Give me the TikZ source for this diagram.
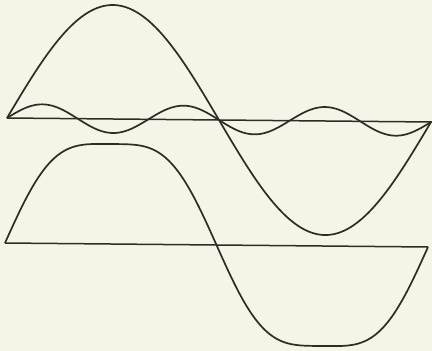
\documentclass[tikz,border=0pt]{standalone}
\definecolor{paper}{RGB}{246,244,230}
\definecolor{ink}{RGB}{45,45,40}
\tikzset{
  curve/.style={ink, line width=1.7pt, line join=round, samples=180},
  axisline/.style={ink, line width=1.5pt}
}
\begin{document}
\begin{tikzpicture}[x=1pt, y=-1pt]
    \fill[paper] (0,0) rectangle (432,351);
    \useasboundingbox (0,0) rectangle (432,351);
    \coordinate (topL) at (7,118);
    \coordinate (topR) at (432,122);
    \coordinate (botL) at (5,243);
    \coordinate (botR) at (428,247);
    \draw[axisline] (topL) -- (topR);
    \draw[axisline] (botL) -- (botR);
    \draw[curve] plot[domain=7:431] ({\x},{118+0.0095*(\x-7)-114*sin((\x-7)/424*360)});
    \draw[curve] plot[domain=7:431] ({\x},{118+0.0095*(\x-7)-14*sin(3*(\x-7)/424*360)});
    \draw[curve] plot[domain=5:428] ({\x},{243+0.0095*(\x-5)-112.5*(sin((\x-5)/423*360)+sin(3*(\x-5)/423*360)/9)});
\end{tikzpicture}
\end{document}
